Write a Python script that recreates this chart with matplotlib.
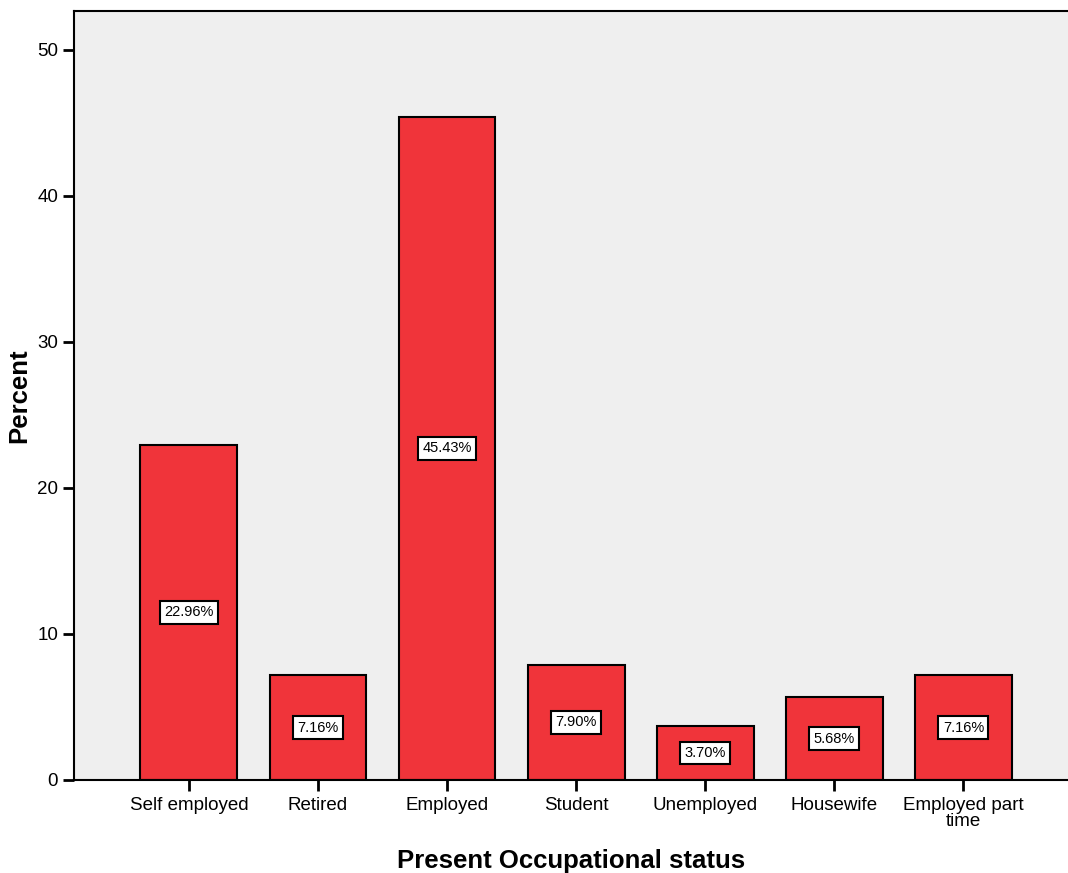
import matplotlib.pyplot as plt

categories = ['Self employed', 'Retired', 'Employed', 'Student', 'Unemployed',
              'Housewife', 'Employed part\ntime']
percent = [22.96, 7.16, 45.43, 7.90, 3.70, 5.68, 7.16]

plt.rcParams['font.family'] = ['Liberation Sans', 'DejaVu Sans']

fig = plt.figure(figsize=(10.68, 8.73), dpi=100)
ax = fig.add_axes([74 / 1068, 93 / 873, 994 / 1068, 769 / 873])
ax.set_facecolor('#efefef')

x = range(len(categories))
bars = ax.bar(x, percent, width=0.75, color='#f0343a', edgecolor='black',
              linewidth=1.5, zorder=2)

# value labels centred in each bar
for xi, v in zip(x, percent):
    ax.text(xi, v / 2, f'{v:.2f}%', ha='center', va='center', fontsize=10.5,
            bbox=dict(boxstyle='square,pad=0.3', facecolor='white',
                      edgecolor='black', linewidth=1.5), zorder=3)

ax.set_xlim(-0.89, 6.81)
ax.set_ylim(0, 52.67)
ax.set_xticks(list(x))
ax.set_xticklabels(categories, fontsize=13.5, linespacing=0.95)
ax.set_yticks([0, 10, 20, 30, 40, 50])
ax.tick_params(axis='both', direction='out', length=8, width=2, labelsize=13.5)
ax.tick_params(axis='x', pad=4)

for side in ['left', 'top', 'bottom']:
    ax.spines[side].set_linewidth(1.5)
ax.spines['right'].set_visible(False)

ax.set_xlabel('Present Occupational status', fontsize=18.5, fontweight='bold',
              labelpad=14)
ax.set_ylabel('Percent', fontsize=18.5, fontweight='bold', labelpad=4)

fig.savefig('out.png', dpi=100)
